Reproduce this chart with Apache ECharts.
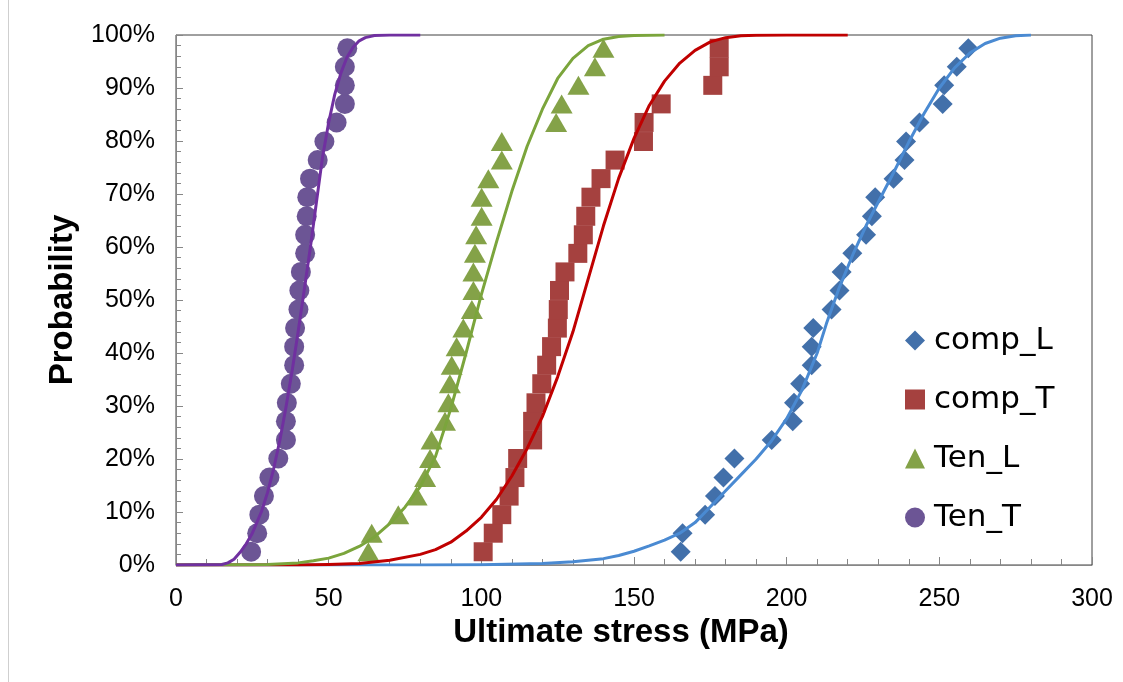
<!DOCTYPE html>
<html><head><meta charset="utf-8">
<script src="https://cdn.jsdelivr.net/npm/echarts@6/dist/echarts.min.js"></script>
<style>html,body{margin:0;padding:0;background:#fff}#c{width:1123px;height:682px}</style>
</head><body><div id="c"></div>
<script>
// cumulative probability (%) of each ranked specimen
const rankProb = [2.5, 6.0, 9.5, 13.0, 16.5, 20.1, 23.6, 27.1, 30.6, 34.2, 37.7, 41.2, 44.7, 48.2,
  51.8, 55.3, 58.8, 62.3, 65.8, 69.4, 72.9, 76.4, 79.9, 83.5, 87.0, 90.5, 94.0, 97.5];

// ultimate stress (MPa) of each ranked specimen
const compL = [165.3, 165.9, 173.3, 176.5, 179.3, 182.9, 195.1, 202.0, 202.4, 204.4, 208.2, 208.2, 208.7, 214.7,
  217.3, 218.0, 221.5, 226.0, 227.9, 229.0, 235.0, 238.6, 239.1, 243.5, 251.1, 251.6, 255.7, 259.5];
const compT = [100.6, 103.9, 106.7, 109.1, 111.0, 111.9, 116.8, 116.8, 117.9, 119.8, 121.4, 123.0, 124.9, 125.2,
  125.6, 127.4, 131.6, 133.4, 134.2, 135.9, 139.2, 143.8, 153.1, 153.3, 158.9, 175.8, 177.9, 177.9];
const tenL = [63.0, 64.1, 72.8, 78.8, 81.6, 83.2, 83.7, 88.1, 89.2, 89.7, 90.3, 91.9, 94.1, 96.9,
  97.4, 97.4, 97.9, 98.3, 100.1, 100.1, 102.3, 106.7, 106.7, 124.5, 126.3, 131.8, 137.2, 140.0];
const tenT = [24.6, 26.6, 27.3, 28.8, 30.6, 33.5, 36.0, 36.0, 36.3, 37.6, 38.7, 38.7, 39.0, 40.1,
  40.4, 40.9, 42.3, 42.3, 42.8, 43.0, 43.9, 46.4, 48.6, 52.6, 55.3, 55.3, 55.3, 56.1];

// fitted distribution curves, [stress, probability %]
const fitCompL = [[0,0],[80,0],[100,0.05],[120,0.3],[130,0.6],[140,1.2],[145,1.8],[150,2.6],[155,3.6],[160,4.7],[165,6.0],
  [170,8.0],[175,11.0],[180,14.0],[185,17.0],[190,20.0],[195,23.4],[200,27.6],[205,33.0],[210,40.0],[213,45.5],
  [217,52.0],[222,59.0],[226,64.0],[230,68.5],[235,74.0],[240,79.8],[245,85.2],[250,90.0],[255,93.8],[260,96.6],
  [265,98.4],[270,99.4],[275,99.85],[280,100]];
const fitCompT = [[0,0],[40,0],[50,0.1],[60,0.3],[70,0.9],[80,2.0],[85,2.9],[90,4.3],[95,6.4],[100,9.0],
  [105,12.4],[110,16.8],[115,22.0],[120,28.0],[125,35.5],[130,44.0],[135,54.0],[140,64.0],[145,73.0],[150,80.5],
  [155,86.7],[160,91.3],[165,94.7],[170,97.1],[175,98.7],[180,99.5],[185,99.85],[190,99.95],[200,100],[220,100]];
const fitTenL = [[0,0],[20,0.05],[30,0.1],[40,0.4],[45,0.8],[50,1.3],[55,2.2],[60,3.5],[65,5.3],[70,7.8],
  [75,10.9],[80,14.8],[85,20.5],[90,29.5],[95,40.0],[100,51.0],[105,61.0],[110,70.5],[115,79.0],[120,86.0],
  [125,91.8],[130,95.6],[135,98.0],[140,99.2],[145,99.7],[150,99.9],[160,100]];
const fitTenT = [[0,0],[15,0.1],[17,0.4],[19,1.1],[21,2.4],[23,4.0],[25,6.0],[28,10.1],[30,13.7],[32,18.2],[34,23.5],
  [36,29.7],[38,36.5],[40,44.0],[42,51.9],[44,59.9],[46,68.5],[48,77.0],[50,83.5],[52,88.8],[54,92.8],
  [56,95.8],[58,97.7],[60,98.9],[62,99.5],[65,99.9],[70,100],[80,100]];

const seriesNames = ['comp_L', 'comp_T', 'Ten_L', 'Ten_T'];
const xTicks = {min: 0, max: 300, step: 50};
const yTicks = {min: 0, max: 100, step: 10};

const zip = (xs, ys) => xs.map((x, i) => [x, ys[i]]);
const FONT = "'Liberation Sans', Arial, sans-serif";
const axisGray = '#878787';

const chart = echarts.init(document.getElementById('c'), null, {renderer: 'canvas'});
chart.setOption({
  animation: false,
  backgroundColor: '#ffffff',
  grid: {left: 176, right: 31, top: 35, bottom: 117, show: true, borderColor: '#404040', borderWidth: 1, backgroundColor: '#fff'},
  graphic: [{type: 'line', shape: {x1: 8.5, y1: 0, x2: 8.5, y2: 682}, style: {stroke: '#cfcfcf', lineWidth: 1}, silent: true}],
  legend: {
    orient: 'vertical', left: 900, top: 320, itemWidth: 20, itemHeight: 20, itemGap: 28,
    textStyle: {fontSize: 31, fontFamily: "'DejaVu Sans', sans-serif", color: '#000', lineHeight: 30, padding: [0, 0, 0, 4]},
    data: seriesNames
  },
  xAxis: {
    type: 'value', min: xTicks.min, max: xTicks.max, interval: xTicks.step,
    name: 'Ultimate stress (MPa)', nameLocation: 'middle', nameGap: 51,
    nameTextStyle: {fontSize: 33, fontWeight: 'bold', fontFamily: FONT, color: '#000', padding: [0, 26, 0, 0]},
    axisLine: {show: true, lineStyle: {color: axisGray, width: 1}},
    axisTick: {show: true, inside: true, length: 8, lineStyle: {color: axisGray}},
    minorTick: {show: true, splitNumber: 5, length: 6, lineStyle: {color: axisGray}},
    axisLabel: {fontSize: 25, fontFamily: FONT, color: '#000', margin: 22},
    splitLine: {show: false}
  },
  yAxis: {
    type: 'value', min: yTicks.min, max: yTicks.max, interval: yTicks.step,
    name: 'Probability', nameLocation: 'middle', nameGap: 97,
    nameTextStyle: {fontSize: 33, fontWeight: 'bold', fontFamily: FONT, color: '#000'},
    axisLine: {show: true, lineStyle: {color: axisGray, width: 1}},
    axisTick: {show: true, inside: true, length: 7, lineStyle: {color: axisGray}},
    minorTick: {show: true, splitNumber: 5, length: 5, lineStyle: {color: axisGray}},
    axisLabel: {fontSize: 25, fontFamily: FONT, color: '#000', margin: 21, formatter: '{value}%'},
    splitLine: {show: false}
  },
  series: [
    {name: 'comp_L', type: 'scatter', symbol: 'diamond', symbolSize: 20, data: zip(compL, rankProb), itemStyle: {color: '#4270AA', opacity: 1}},
    {name: 'comp_T', type: 'scatter', symbol: 'rect', symbolSize: 19, data: zip(compT, rankProb), itemStyle: {color: '#A5413F', opacity: 1}},
    {name: 'Ten_L', type: 'scatter', symbol: 'triangle', symbolSize: [22, 19], data: zip(tenL, rankProb), itemStyle: {color: '#84A248', opacity: 1}},
    {name: 'Ten_T', type: 'scatter', symbol: 'circle', symbolSize: 20, data: zip(tenT, rankProb), itemStyle: {color: '#6C5595', opacity: 1}},
    {name: 'comp_L fit', type: 'line', data: fitCompL, showSymbol: false, smooth: false, lineStyle: {color: '#4A8AD2', width: 3, join: 'round'}, itemStyle: {color: '#4A8AD2'}},
    {name: 'comp_T fit', type: 'line', data: fitCompT, showSymbol: false, smooth: false, lineStyle: {color: '#C00000', width: 3, join: 'round'}, itemStyle: {color: '#C00000'}},
    {name: 'Ten_L fit', type: 'line', data: fitTenL, showSymbol: false, smooth: false, lineStyle: {color: '#7BA53C', width: 3, join: 'round'}, itemStyle: {color: '#7BA53C'}},
    {name: 'Ten_T fit', type: 'line', data: fitTenT, showSymbol: false, smooth: false, lineStyle: {color: '#7030A0', width: 3, join: 'round'}, itemStyle: {color: '#7030A0'}}
  ]
});
</script>
</body></html>
